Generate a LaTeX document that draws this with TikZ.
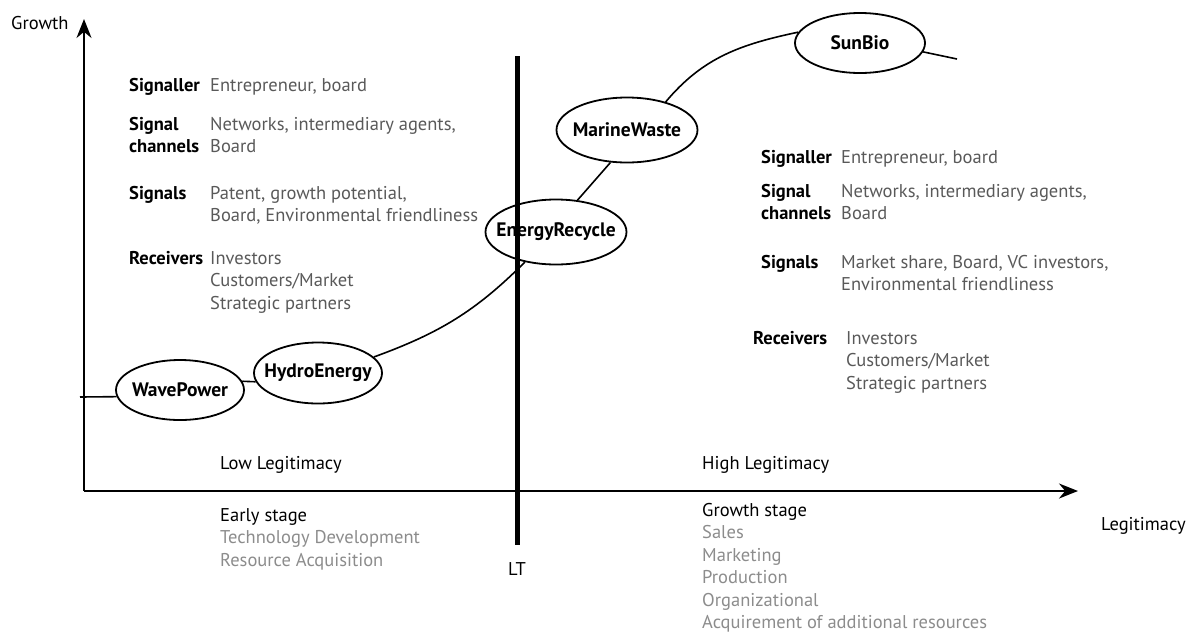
\documentclass[tikz,border=0pt]{standalone}
\usepackage{fontspec}
\setmainfont{PT Sans}
\usetikzlibrary{arrows.meta,shapes.geometric}
\definecolor{valgray}{gray}{0.35}
\definecolor{taskgray}{gray}{0.55}
\newcommand\firmtext[1]{\makebox[0pt]{#1}}
\tikzset{
  firm/.style={ellipse, draw, line width=1.8pt, inner sep=0pt, font=\fontsize{19.5}{22}\selectfont\bfseries},
  lbl/.style={anchor=base west, align=left, inner sep=0pt, font=\fontsize{18.5}{22.5}\selectfont\bfseries},
  val/.style={anchor=base west, align=left, inner sep=0pt, text=valgray, font=\fontsize{18.5}{22.5}\selectfont},
  plain/.style={anchor=base west, align=left, inner sep=0pt, font=\fontsize{18.5}{22.5}\selectfont},
  axis/.style={line width=2pt, -{Stealth[length=19pt,width=15pt]}},
  path/.style={line width=1.6pt}
}

\begin{document}
\begin{tikzpicture}[x=1pt,y=-1pt]
		\useasboundingbox (0,0) rectangle (1189,633);
		
		% axes
		\coordinate (origin) at (84,491);
		\coordinate (ytip) at (84,19);
		\coordinate (xtip) at (1078,491);
		\draw[axis] (origin) -- (ytip);
		\draw[axis] (origin) -- (xtip);
		\node[plain] (growth) at (11,29) {Growth};
		\node[plain, anchor=base east] (legit) at (1186,530) {Legitimacy};
		
		% legitimacy threshold
		\coordinate (lttop) at (517,56);
		\coordinate (ltbot) at (517,545);
		\draw[line width=5pt] (lttop) -- (ltbot);
		\node[plain, anchor=base] (lt) at (517,575) {LT};
		
		% firms
		\node[firm, minimum width=128, minimum height=60] (wave) at (180,390) {\firmtext{WavePower}};
		\node[firm, minimum width=128, minimum height=61] (hydro) at (318,373) {\firmtext{HydroEnergy}};
		\node[firm, minimum width=141, minimum height=65] (energy) at (556,232) {\firmtext{EnergyRecycle}};
		\node[firm, minimum width=141, minimum height=65] (marine) at (627,130) {\firmtext{MarineWaste}};
		\node[firm, minimum width=130, minimum height=60] (sunbio) at (860,43) {\firmtext{SunBio}};
		
		\coordinate (start) at (80,397);
		\coordinate (tail) at (957,59);
		\draw[path] (start) -- (wave.186);
		\draw[path] (wave.8) -- (hydro.188);
		\draw[path] (hydro.16) to[out=20,in=225] (energy.224);
		\draw[path] (energy.56) -- (marine.243);
		\draw[path] (marine.36) to[out=50,in=192] (sunbio.170);
		\draw[path] (sunbio.-8) -- (tail);
		
		% left panel (base = last line)
		\node[lbl] (lsigr) at (129,91) {Signaller};
		\node[val] (lsigrv) at (210,91) {Entrepreneur, board};
		\node[lbl] (lchan) at (129,152.5) {Signal\\channels};
		\node[val] (lchanv) at (210,152.5) {Networks, intermediary agents,\\Board};
		\node[lbl] (lsigs) at (129,199) {Signals};
		\node[val] (lsigsv) at (210,221.5) {Patent, growth potential,\\Board, Environmental friendliness};
		\node[lbl] (lrec) at (129,264) {Receivers};
		\node[val] (lrecv) at (210,309) {Investors\\Customers/Market\\Strategic partners};
		
		% right panel
		\node[lbl] (rsigr) at (761,163) {Signaller};
		\node[val] (rsigrv) at (841,163) {Entrepreneur, board};
		\node[lbl] (rchan) at (761,219.5) {Signal\\channels};
		\node[val] (rchanv) at (841,219.5) {Networks, intermediary agents,\\Board};
		\node[lbl] (rsigs) at (761,268) {Signals};
		\node[val] (rsigsv) at (841,290.5) {Market share, Board, VC investors,\\Environmental friendliness};
		\node[lbl] (rrec) at (753,344) {Receivers};
		\node[val] (rrecv) at (846,389) {Investors\\Customers/Market\\Strategic partners};
		
		% stages
		\node[plain] (low) at (220,469) {Low Legitimacy};
		\node[plain] (high) at (702,469) {High Legitimacy};
		\node[plain] (early) at (220,566) {Early stage\\\textcolor{taskgray}{Technology Development}\\\textcolor{taskgray}{Resource Acquisition}};
		\node[plain] (grow) at (702,628.5) {Growth stage\\\textcolor{taskgray}{Sales}\\\textcolor{taskgray}{Marketing}\\\textcolor{taskgray}{Production}\\\textcolor{taskgray}{Organizational}\\\textcolor{taskgray}{Acquirement of additional resources}};
	\end{tikzpicture}
\end{document}
